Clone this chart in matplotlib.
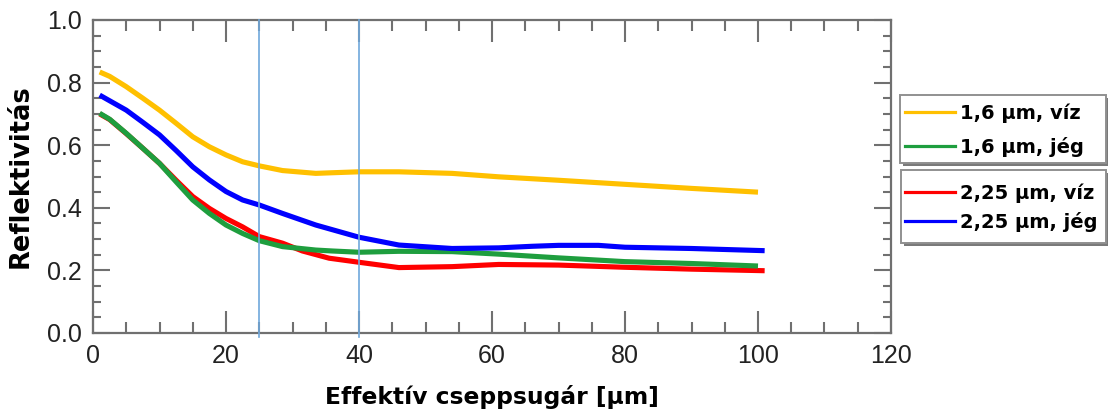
import matplotlib
matplotlib.use("Agg")
import matplotlib.pyplot as plt
from matplotlib import font_manager
from matplotlib.ticker import MultipleLocator, FormatStrFormatter
from matplotlib.lines import Line2D
from matplotlib.patches import Rectangle

# ---- data ----
x_yellow = [1, 2.5, 5, 7.5, 10, 12.5, 15, 17.5, 20, 22.5, 25, 28.5, 33.5, 36, 40, 46, 54, 61, 70, 80, 90, 100]
y_yellow = [0.834, 0.82, 0.787, 0.75, 0.712, 0.67, 0.627, 0.595, 0.569, 0.547, 0.534, 0.519, 0.510, 0.512,
            0.515, 0.515, 0.510, 0.499, 0.488, 0.475, 0.462, 0.450]

x_green = [1, 2.5, 5, 7.5, 10, 12.5, 15, 17.5, 20, 22.5, 25, 28.5, 33.5, 36, 40, 46, 54, 61, 70, 80, 90, 100]
y_green = [0.702, 0.683, 0.638, 0.59, 0.542, 0.483, 0.425, 0.382, 0.345, 0.318, 0.295, 0.276, 0.265, 0.262,
           0.258, 0.261, 0.260, 0.252, 0.240, 0.228, 0.222, 0.214]

x_red = [1, 2.5, 5, 7.5, 10, 12.5, 15, 17.5, 20, 22.5, 25, 28.5, 31.5, 35.5, 40, 46, 54, 61, 70, 80, 90, 101]
y_red = [0.700, 0.682, 0.637, 0.59, 0.542, 0.488, 0.436, 0.398, 0.366, 0.339, 0.308, 0.287, 0.262, 0.239,
         0.226, 0.209, 0.212, 0.219, 0.217, 0.210, 0.204, 0.199]

x_blue = [1, 2.5, 5, 7.5, 10, 12.5, 15, 17.5, 20, 22.5, 25, 28.5, 33.5, 36, 40, 46, 54, 61, 66, 70, 76, 80, 90, 101]
y_blue = [0.760, 0.742, 0.712, 0.673, 0.633, 0.583, 0.531, 0.489, 0.452, 0.425, 0.409, 0.382, 0.345, 0.330,
          0.306, 0.281, 0.270, 0.272, 0.277, 0.280, 0.280, 0.274, 0.270, 0.263]

vlines = [25, 40]
labels = ["1,6 µm, víz", "1,6 µm, jég", "2,25 µm, víz", "2,25 µm, jég"]
colors = ["#FFC000", "#1E9E3E", "#FF0000", "#0000FF"]

# ---- fonts ----
names = {f.name for f in font_manager.fontManager.ttflist}
if "Liberation Sans Narrow" in names:
    tick_family, tick_size = "Liberation Sans Narrow", 20
else:
    tick_family, tick_size = "Liberation Sans", 18
bold_family = "DejaVu Sans"

fig = plt.figure(figsize=(11.08, 4.12), dpi=100)
W, H = 1108, 412
ax = fig.add_axes([93 / W, 1 - 333 / H, (891 - 93) / W, (333 - 20) / H])

lw = 3.7
ax.plot(x_yellow, y_yellow, color=colors[0], lw=lw, solid_capstyle="butt", zorder=3)
ax.plot(x_red, y_red, color=colors[2], lw=lw, solid_capstyle="butt", zorder=3)
ax.plot(x_green, y_green, color=colors[1], lw=lw, solid_capstyle="butt", zorder=4)
ax.plot(x_blue, y_blue, color=colors[3], lw=lw, solid_capstyle="butt", zorder=5)

for v in vlines:
    ax.axvline(v, color="#6FA8DC", lw=1.2, zorder=6, clip_on=False, ymin=-0.012, ymax=1)

ax.set_xlim(0, 120)
ax.set_ylim(0, 1.0)
ax.xaxis.set_major_locator(MultipleLocator(20))
ax.xaxis.set_minor_locator(MultipleLocator(5))
ax.yaxis.set_major_locator(MultipleLocator(0.2))
ax.yaxis.set_minor_locator(MultipleLocator(0.05))
ax.yaxis.set_major_formatter(FormatStrFormatter("%.1f"))

tc = "#707070"
ax.tick_params(axis="x", which="major", direction="in", length=16, width=1.5,
               color=tc, top=True, bottom=True, pad=8)
ax.tick_params(axis="x", which="minor", direction="in", length=8, width=1.5,
               color=tc, top=True, bottom=True)
ax.tick_params(axis="y", which="major", direction="in", length=12, width=1.5,
               color=tc, left=True, right=True, pad=8)
ax.tick_params(axis="y", which="minor", direction="in", length=6, width=1.5,
               color=tc, left=True, right=True)
for lab in ax.get_xticklabels() + ax.get_yticklabels():
    lab.set_fontfamily(tick_family)
    lab.set_fontsize(tick_size)
    lab.set_color("#222222")
for sp in ax.spines.values():
    sp.set_color(tc)
    sp.set_linewidth(1.6)

ax.set_ylabel("Reflektivitás", family=bold_family, weight="bold", fontsize=18.5)
ax.yaxis.set_label_coords(-0.075, 0.5)
ax.set_xlabel("Effektív cseppsugár [µm]", family=bold_family, weight="bold", fontsize=16.8)
ax.xaxis.set_label_coords(0.5, -0.165)

# ---- legends (two framed boxes with drop shadow) ----
def px_rect(x0, y0, x1, y1, **kw):
    return Rectangle((x0 / W, 1 - y1 / H), (x1 - x0) / W, (y1 - y0) / H,
                     transform=fig.transFigure, **kw)

def make_legend(idx, box, row_center, spacing):
    x0, y0, x1, y1 = box
    fig.patches.append(px_rect(x0 + 3, y0 + 3, x1 + 3, y1 + 3, facecolor="#7a7a7a",
                               edgecolor="none", zorder=1))
    fig.patches.append(px_rect(x0, y0, x1, y1, facecolor="white",
                               edgecolor="#909090", lw=1.4, zorder=2))
    handles = [Line2D([], [], color=colors[i], lw=2.3) for i in idx]
    leg = fig.legend(handles, [labels[i] for i in idx], loc="center left",
                     bbox_to_anchor=(905 / W, 1 - row_center / H),
                     prop={"family": bold_family, "weight": "bold", "size": 14},
                     frameon=False, handlelength=2.55,
                     handletextpad=0.3, labelspacing=spacing, borderpad=0,
                     borderaxespad=0)
    leg.set_zorder(5)
    return leg

make_legend([0, 1], (900, 95, 1106, 163), 130, 0.72)
make_legend([2, 3], (901, 170, 1106, 243), 207.5, 0.46)

fig.savefig("out.png", dpi=100)
